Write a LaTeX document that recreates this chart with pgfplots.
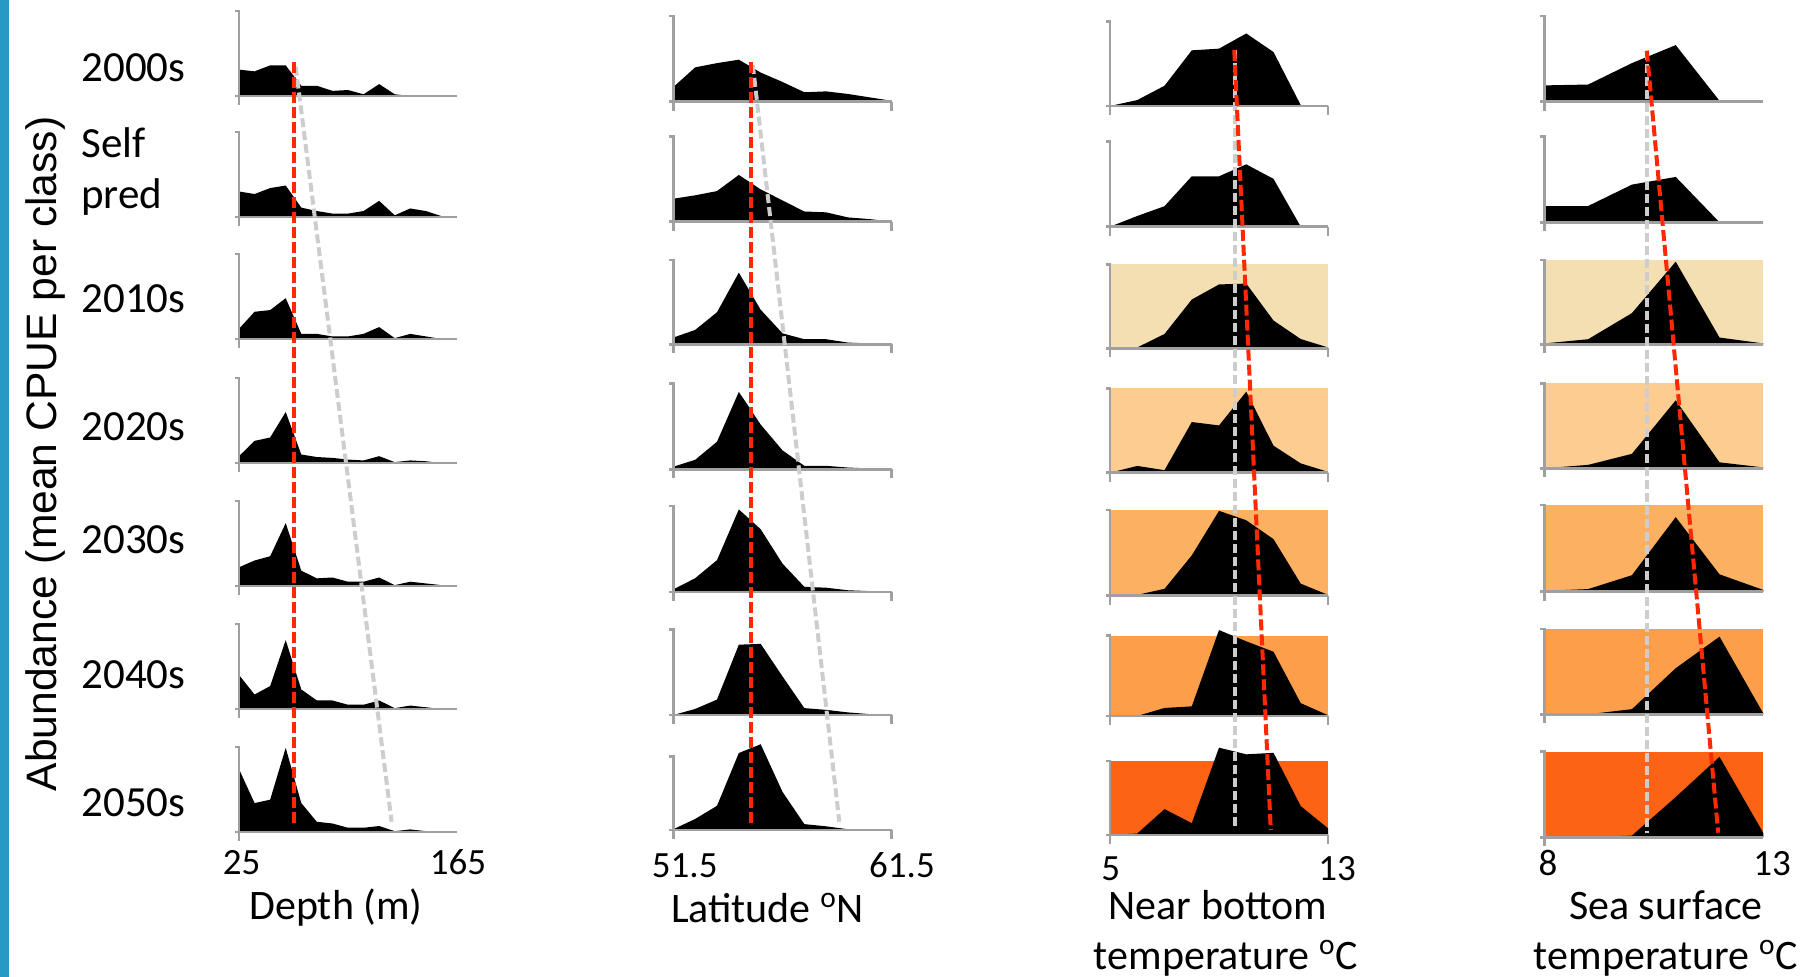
\documentclass[border=0pt]{standalone}
\usepackage{pgfplots}
\pgfplotsset{compat=1.18}
\usepackage{pgfplotstable}
\usepackage{fontspec}
\setmainfont{Carlito}
\newfontfamily\arialf{Liberation Sans}

\definecolor{axg}{RGB}{160,160,160}
\definecolor{redl}{RGB}{255,40,0}
\definecolor{grayl}{RGB}{205,205,205}
\definecolor{bgA}{RGB}{243,223,178}
\definecolor{bgB}{RGB}{252,204,144}
\definecolor{bgC}{RGB}{252,176,98}
\definecolor{bgD}{RGB}{252,158,74}
\definecolor{bgE}{RGB}{253,99,20}
\definecolor{bluebar}{RGB}{40,152,196}

\pgfplotstableread{
x r1 r2 r3 r4 r5 r6 r7
25 0 0 0 0 0 0 0
25 0.31 0.30 0.12 0.08 0.22 0.40 0.74
35 0.29 0.27 0.32 0.26 0.30 0.17 0.34
45 0.36 0.34 0.34 0.30 0.35 0.27 0.38
55 0.36 0.37 0.48 0.60 0.74 0.81 0.99
65 0.12 0.11 0.06 0.10 0.18 0.23 0.34
75 0.12 0.07 0.06 0.07 0.09 0.10 0.12
85 0.06 0.04 0.03 0.06 0.10 0.10 0.10
95 0.07 0.04 0.03 0.04 0.05 0.05 0.05
105 0.02 0.07 0.06 0.03 0.05 0.05 0.05
115 0.14 0.19 0.14 0.08 0.10 0.10 0.07
125 0.02 0.02 0.01 0.01 0.01 0.01 0.01
135 0 0.10 0.06 0.03 0.05 0.04 0.03
145 0 0.07 0.03 0.02 0.03 0.02 0.01
155 0 0.01 0 0 0.01 0 0
165 0 0 0 0 0 0 0
}\depth

\pgfplotstableread{
x r1 r2 r3 r4 r5 r6 r7
51.5 0 0 0 0 0 0 0
51.5 0.17 0.27 0.08 0.03 0.03 0 0.01
52.5 0.40 0.31 0.17 0.11 0.16 0.07 0.15
53.5 0.45 0.36 0.38 0.32 0.37 0.18 0.33
54.5 0.49 0.55 0.85 0.90 0.96 0.82 1.05
55.5 0.34 0.38 0.41 0.52 0.73 0.83 1.17
56.5 0.23 0.25 0.13 0.22 0.33 0.45 0.52
57.5 0.11 0.12 0.06 0.04 0.06 0.08 0.08
58.5 0.12 0.11 0.06 0.04 0.05 0.06 0.05
59.5 0.09 0.05 0.02 0.02 0.02 0.03 0.01
60.5 0.05 0.03 0.01 0.01 0.01 0.01 0
61.5 0.01 0 0 0 0 0 0
61.5 0 0 0 0 0 0 0
}\lat

\pgfplotstableread{
x r1 r2 r3 r4 r5 r6 r7
5 0 0 0 0 0 0 0
6 0.07 0.125 0.01 0.08 0.01 0 0.02
7 0.24 0.24 0.17 0.03 0.08 0.10 0.35
8 0.66 0.59 0.58 0.60 0.47 0.12 0.16
9 0.68 0.59 0.76 0.56 0.99 1.07 1.18
10 0.86 0.73 0.77 0.96 0.88 0.93 1.09
11 0.64 0.56 0.33 0.32 0.66 0.80 1.11
12 0.01 0 0.11 0.11 0.14 0.16 0.39
13 0 0 0.01 0.01 0.01 0.01 0.09
13 0 0 0 0 0 0 0
}\nbt

\pgfplotstableread{
x r1 r2 r3 r4 r5 r6 r7
8 0 0 0 0 0 0 0
8 0.19 0.19 0.01 0 0.01 0 0
9 0.20 0.19 0.06 0.04 0.03 0 0
10 0.45 0.44 0.37 0.17 0.19 0.06 0.02
11 0.66 0.53 0.98 0.80 0.86 0.54 0.47
12 0.01 0 0.08 0.07 0.20 0.91 0.94
13 0 0 0.01 0.01 0.02 0.01 0.05
13 0 0 0 0 0 0 0
}\sst

\pgfplotsset{colax/.style={scale only axis, height=488.5pt, ymin=0, ymax=977,
  hide axis, clip=false, anchor=south west}}
\tikzset{axl/.style={draw=axg, line width=1.3pt, line cap=butt},
  reddash/.style={draw=redl, line width=2pt, dash pattern=on 5.5pt off 2pt},
  graydash/.style={draw=grayl, line width=2pt, dash pattern=on 4.5pt off 2pt}}

% #1 table, #2 column, #3 base, #4 height
\newcommand{\area}[4]{\addplot[fill=black, draw=none] table[x=x, y expr=#3+#4*\thisrow{#2}] {#1};}
% #1 xmin #2 xmax #3 base #4 top
\newcommand{\pax}[4]{%
  \draw[axl] ([xshift=-2pt]axis cs:#1,#4) -- (axis cs:#1,#4) -- ([yshift=-4.5pt]axis cs:#1,#3);
  \draw[axl] ([xshift=-2pt]axis cs:#1,#3) -- (axis cs:#2,#3);}
\newcommand{\rtick}[2]{\draw[axl] (axis cs:#1,#2) -- ([yshift=-4.5pt]axis cs:#1,#2);}
\newcommand{\bg}[5]{\fill[#1] (axis cs:#2,#4) rectangle (axis cs:#3,#5);}

\begin{document}
\begin{tikzpicture}
\path[use as bounding box] (0,0) rectangle (909pt,488.5pt);
\fill[bluebar] (0,0) rectangle (4.25pt,488.5pt);

% ---------- Depth ----------
\begin{axis}[colax, at={(119.5pt,0pt)}, width=109pt, xmin=25, xmax=165]
\area{\depth}{r1}{881}{85}
\area{\depth}{r2}{760}{85}
\area{\depth}{r3}{638}{85}
\area{\depth}{r4}{514}{85}
\area{\depth}{r5}{391}{85}
\area{\depth}{r6}{268}{85}
\area{\depth}{r7}{145}{85}
\pax{25}{165}{881}{966}
\pax{25}{165}{760}{845}
\pax{25}{165}{638}{723}
\pax{25}{165}{514}{599}
\pax{25}{165}{391}{476}
\pax{25}{165}{268}{353}
\pax{25}{165}{145}{230}
\addplot[graydash] coordinates {(61.4,910.3) (123,155.3)};
\addplot[reddash] coordinates {(60.5,915.3) (60.5,153.7)};
\end{axis}

% ---------- Latitude ----------
\begin{axis}[colax, at={(336.65pt,0pt)}, width=109.2pt, xmin=51.5, xmax=61.5]
\area{\lat}{r1}{875.3}{85.7}
\area{\lat}{r2}{755.3}{85}
\area{\lat}{r3}{632.7}{84.3}
\area{\lat}{r4}{507.7}{86}
\area{\lat}{r5}{385}{86}
\area{\lat}{r6}{262}{85.7}
\area{\lat}{r7}{147}{73.3}
\pax{51.5}{61.5}{875.3}{961}\rtick{61.5}{875.3}
\pax{51.5}{61.5}{755.3}{840.3}\rtick{61.5}{755.3}
\pax{51.5}{61.5}{632.7}{717}\rtick{61.5}{632.7}
\pax{51.5}{61.5}{507.7}{593.7}\rtick{61.5}{507.7}
\pax{51.5}{61.5}{385}{471}\rtick{61.5}{385}
\pax{51.5}{61.5}{262}{347.7}\rtick{61.5}{262}
\pax{51.5}{61.5}{147}{220.3}\rtick{61.5}{147}
\addplot[graydash] coordinates {(55.14,912) (59.1,155.3)};
\addplot[reddash] coordinates {(55.06,915) (55.06,154)};
\end{axis}

% ---------- Near bottom temperature ----------
\begin{axis}[colax, at={(555pt,0pt)}, width=109pt, xmin=5, xmax=13]
\bg{bgA}{5}{13}{628.7}{712.7}
\bg{bgB}{5}{13}{504.3}{588.7}
\bg{bgC}{5}{13}{381.3}{467}
\bg{bgD}{5}{13}{261}{341.3}
\bg{bgE}{5}{13}{142}{216}
\area{\nbt}{r1}{871}{84.3}
\area{\nbt}{r2}{750.3}{85.4}
\area{\nbt}{r3}{628.7}{84}
\area{\nbt}{r4}{504.3}{84.4}
\area{\nbt}{r5}{381.3}{85.7}
\area{\nbt}{r6}{261}{80.3}
\area{\nbt}{r7}{142}{74}
\pax{5}{13}{871}{955.3}\rtick{13}{871}
\pax{5}{13}{750.3}{835.7}\rtick{13}{750.3}
\pax{5}{13}{628.7}{712.7}\rtick{13}{628.7}
\pax{5}{13}{504.3}{588.7}\rtick{13}{504.3}
\pax{5}{13}{381.3}{467}\rtick{13}{381.3}
\pax{5}{13}{261}{341.3}\rtick{13}{261}
\pax{5}{13}{142}{216}\rtick{13}{142}
\addplot[graydash] coordinates {(9.59,927) (9.59,147)};
\addplot[reddash] coordinates {(9.56,927) (10.90,147)};
\end{axis}

% ---------- Sea surface temperature ----------
\begin{axis}[colax, at={(772.15pt,0pt)}, width=109.5pt, xmin=8, xmax=13]
\bg{bgA}{8}{13}{632.7}{717}
\bg{bgB}{8}{13}{508.7}{593.7}
\bg{bgC}{8}{13}{385.3}{472}
\bg{bgD}{8}{13}{262.7}{348}
\bg{bgE}{8}{13}{139.7}{225.3}
\area{\sst}{r1}{875.3}{85.7}
\area{\sst}{r2}{754.7}{85.6}
\area{\sst}{r3}{632.7}{84.3}
\area{\sst}{r4}{508.7}{85}
\area{\sst}{r5}{385.3}{86.7}
\area{\sst}{r6}{262.7}{85.3}
\area{\sst}{r7}{139.7}{85.6}
\pax{8}{13}{875.3}{961}
\pax{8}{13}{754.7}{840.3}
\pax{8}{13}{632.7}{717}
\pax{8}{13}{508.7}{593.7}
\pax{8}{13}{385.3}{472}
\pax{8}{13}{262.7}{348}
\pax{8}{13}{139.7}{225.3}
\addplot[graydash] coordinates {(10.34,926.3) (10.34,144.3)};
\addplot[reddash] coordinates {(10.34,926.3) (11.97,144.3)};
\end{axis}

% ---------- Texts ----------
\begin{scope}[shift={(0pt,488.5pt)}, x=0.5pt, y=-0.5pt]
\tikzset{yl/.style={anchor=base west, inner sep=0pt, font=\fontsize{21.5}{25}\selectfont},
  tl/.style={anchor=base, inner sep=0pt, font=\fontsize{18.5}{22}\selectfont},
  axt/.style={anchor=base, inner sep=0pt, font=\fontsize{21}{25}\selectfont}}
\node[yl] at (81,82) {2000s};
\node[yl] at (81,158) {Self};
\node[yl] at (81,209) {pred};
\node[yl] at (81,313) {2010s};
\node[yl] at (81,441) {2020s};
\node[yl] at (81,554) {2030s};
\node[yl] at (81,689) {2040s};
\node[yl] at (81,817) {2050s};

\node[tl] at (241.5,875) {25};
\node[tl] at (458,875) {165};
\node[tl] at (684.7,877.5) {51.5};
\node[tl] at (902,877.5) {61.5};
\node[tl] at (1110.7,881) {5};
\node[tl] at (1337,881) {13};
\node[tl] at (1548,876) {8};
\node[tl] at (1772,876) {13};

\node[axt] at (336,920) {Depth (m)};
\node[axt] at (767.5,923) {Latitude \textsuperscript{o}N};
\node[axt] at (1218,920) {Near bottom};
\node[axt] at (1226,970) {temperature \textsuperscript{o}C};
\node[axt] at (1666,920) {Sea surface};
\node[axt] at (1666,970) {temperature \textsuperscript{o}C};

\node[rotate=90, anchor=base, inner sep=0pt, font=\arialf\fontsize{21.3}{25}\selectfont] at (56,454) {Abundance (mean CPUE per class)};
\end{scope}
\end{tikzpicture}
\end{document}
